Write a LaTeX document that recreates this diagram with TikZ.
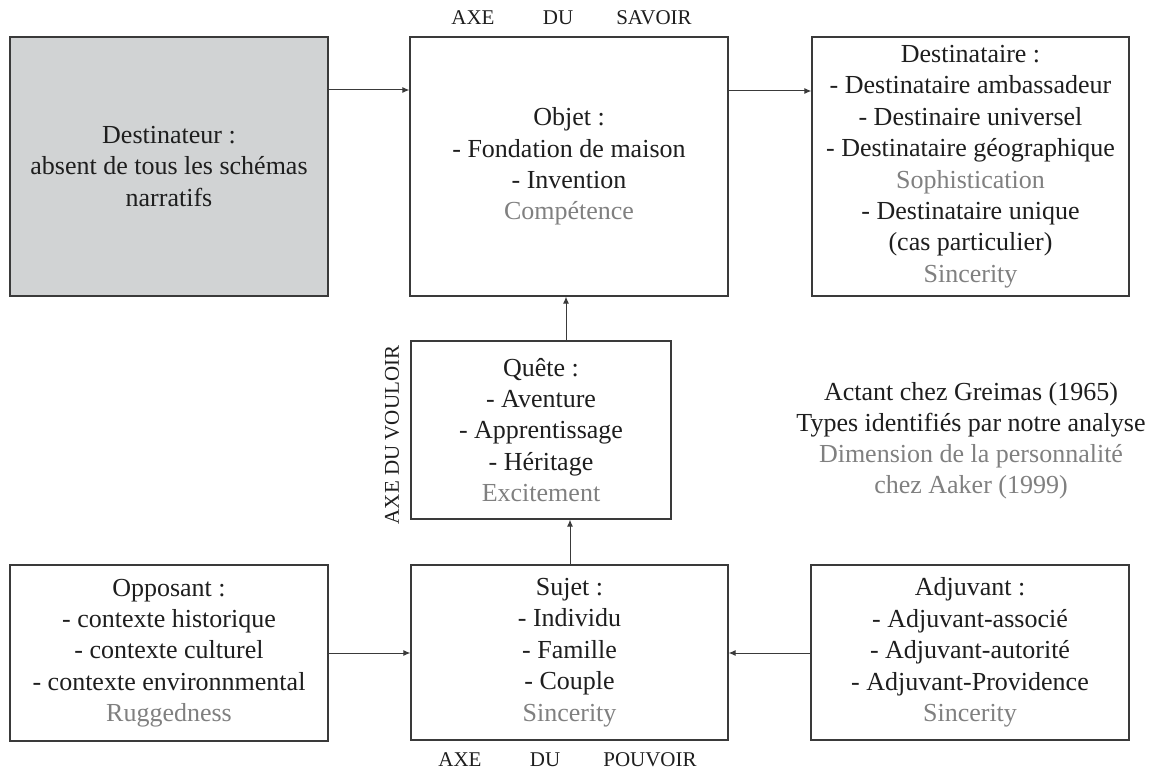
\documentclass[tikz,border=0pt]{standalone}
\usepackage{fontspec}
\setmainfont{Liberation Serif}
\usetikzlibrary{arrows.meta}
\definecolor{boxline}{HTML}{3A3A3A}
\definecolor{boxfill}{HTML}{D1D3D4}
\definecolor{dimtext}{HTML}{808080}
\definecolor{inktext}{HTML}{1E1E1E}
\tikzset{
  actbox/.style={draw=boxline, line width=1.3pt, rectangle, align=center,
    text=inktext, inner sep=0pt, font=\fontsize{26}{31.4}\selectfont},
  axislabel/.style={text=inktext, inner sep=0pt, font=\fontsize{21}{25}\selectfont},
  legendtext/.style={text=inktext, align=center, inner sep=0pt, font=\fontsize{26}{31}\selectfont},
  link/.style={draw=boxline, line width=1pt, -{Latex[length=7pt,width=6pt]}}
}
\newcommand{\dimt}[1]{\textcolor{dimtext}{#1}}
\begin{document}
\begin{tikzpicture}[x=1pt,y=-1pt]
\useasboundingbox[fill=white] (0,0) rectangle (1162,770);

\node[actbox, fill=boxfill, minimum width=318pt, minimum height=259pt] (destinateur) at (169,166.5)
  {Destinateur :\\absent de tous les schémas\\narratifs};
\node[actbox, minimum width=318pt, minimum height=259pt] (objet) at (569,166.5)
  {Objet :\\- Fondation de maison\\- Invention\\\dimt{Compétence}};
\node[actbox, minimum width=317pt, minimum height=259pt] (destinataire) at (970.5,166.5)
  {Destinataire :\\- Destinataire ambassadeur\\- Destinaire universel\\- Destinataire géographique\\\dimt{Sophistication}\\- Destinataire unique\\(cas particulier)\\\dimt{Sincerity}};
\node[actbox, minimum width=260pt, minimum height=178pt] (quete) at (541,430)
  {Quête :\\- Aventure\\- Apprentissage\\- Héritage\\\dimt{Excitement}};
\node[actbox, minimum width=318pt, minimum height=176pt] (opposant) at (169,653)
  {Opposant :\\- contexte historique\\- contexte culturel\\- contexte environnmental\\\dimt{Ruggedness}};
\node[actbox, minimum width=317pt, minimum height=175pt] (sujet) at (569.5,652.5)
  {Sujet :\\- Individu\\- Famille\\- Couple\\\dimt{Sincerity}};
\node[actbox, minimum width=318pt, minimum height=175pt] (adjuvant) at (970,652.5)
  {Adjuvant :\\- Adjuvant-associé\\- Adjuvant-autorité\\- Adjuvant-Providence\\\dimt{Sincerity}};

\node[legendtext] (legend) at (971,441)
  {Actant chez Greimas (1965)\\Types identifiés par notre analyse\\\dimt{Dimension de la personnalité}\\\dimt{chez Aaker (1999)}};

\node[axislabel] (savoirA) at (473,18) {AXE};
\node[axislabel] (savoirB) at (558,18) {DU};
\node[axislabel] (savoirC) at (654,18) {SAVOIR};
\node[axislabel] (pouvoirA) at (460,760) {AXE};
\node[axislabel] (pouvoirB) at (545,760) {DU};
\node[axislabel] (pouvoirC) at (650,760) {POUVOIR};
\node[axislabel, rotate=90] (vouloir) at (392,435) {AXE DU VOULOIR};

\draw[link] (destinateur.east |- 0,90) -- (objet.west |- 0,90);
\draw[link] (objet.east |- 0,91) -- (destinataire.west |- 0,91);
\draw[link] (quete.north -| 566,0) -- (objet.south -| 566,0);
\draw[link] (sujet.north -| 570,0) -- (quete.south -| 570,0);
\draw[link] (opposant.east |- 0,653) -- (sujet.west |- 0,653);
\draw[link] (adjuvant.west |- 0,653) -- (sujet.east |- 0,653);
\end{tikzpicture}
\end{document}
